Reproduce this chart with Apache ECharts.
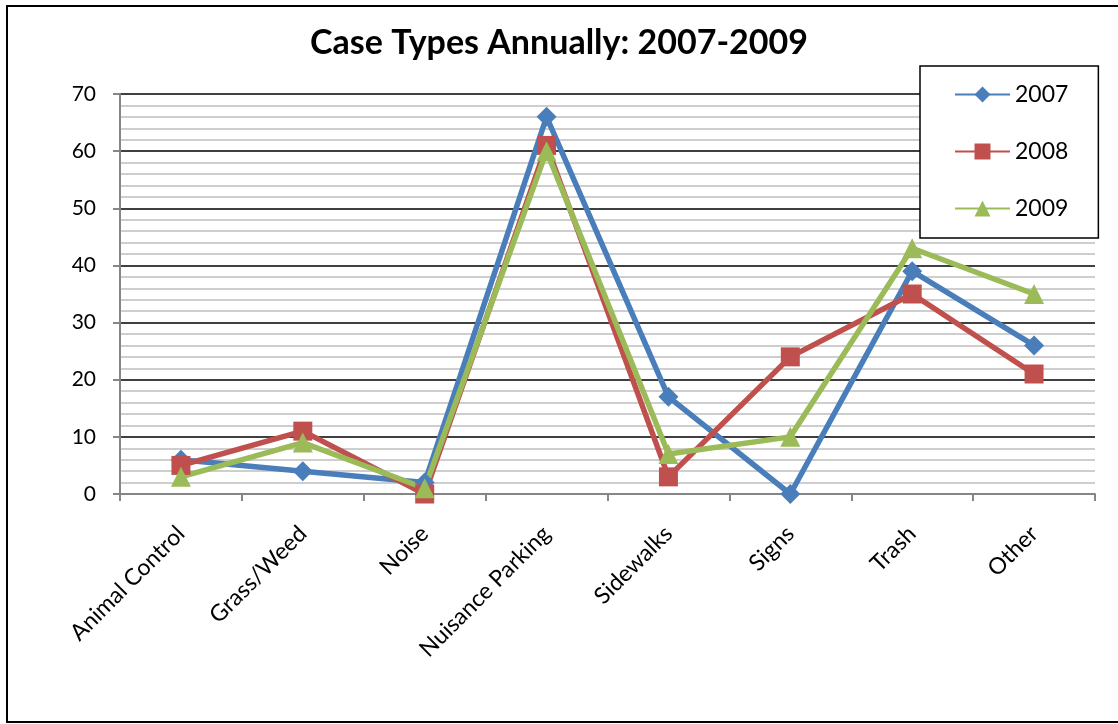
<!DOCTYPE html>
<html>
<head>
<meta charset="utf-8">
<script src="https://cdn.jsdelivr.net/npm/echarts@6/dist/echarts.min.js"></script>
<style>
  html, body { margin: 0; padding: 0; background: #fff; }
  #chart { width: 1118px; height: 724px; }
</style>
</head>
<body>
<div id="chart"></div>
<script>
const categories = ['Animal Control', 'Grass/Weed', 'Noise', 'Nuisance Parking', 'Sidewalks', 'Signs', 'Trash', 'Other']
const cases2007 = [6, 4, 2, 66, 17, 0, 39, 26]
const cases2008 = [5, 11, 0, 61, 3, 24, 35, 21]
const cases2009 = [3, 9, 1, 60, 7, 10, 43, 35]

const font = 'Lato, "Open Sans", sans-serif'

const makeSeries = (name, data, color, symbol, size) => ({
  name,
  type: 'line',
  data,
  symbol,
  symbolSize: size,
  lineStyle: { width: 5.5, color },
  itemStyle: { color },
  emphasis: { disabled: true },
  z: 3
})

const chart = echarts.init(document.getElementById('chart'))
chart.setOption({
  animation: false,
  backgroundColor: '#fff',
  title: {
    text: 'Case Types Annually: 2007-2009',
    left: 'center',
    top: 21,
    textStyle: { fontFamily: font, fontWeight: 'bold', fontSize: 34, color: '#000' }
  },
  graphic: [{
    type: 'rect',
    shape: { x: 7, y: 6, width: 1120, height: 716 },
    style: { fill: 'none', stroke: '#000', lineWidth: 2 },
    z: -1
  }],
  legend: {
    orient: 'vertical',
    left: 920,
    top: 66,
    width: 182,
    padding: [17, 30, 18, 34],
    itemGap: 34,
    itemWidth: 55,
    itemHeight: 20,
    backgroundColor: '#fff',
    borderColor: '#000',
    borderWidth: 1.5,
    textStyle: { fontFamily: font, fontSize: 23, color: '#000' },
    data: ['2007', '2008', '2009']
  },
  grid: { left: 120, right: 23, top: 94, bottom: 230, containLabel: false },
  xAxis: {
    type: 'category',
    data: categories,
    boundaryGap: true,
    axisLine: { lineStyle: { color: '#868686', width: 2 } },
    axisTick: { show: true, length: 7, lineStyle: { color: '#868686', width: 2 } },
    axisLabel: { rotate: 45, margin: 36, fontFamily: font, fontSize: 23, color: '#000' },
    splitLine: { show: false }
  },
  yAxis: {
    type: 'value',
    min: 0,
    max: 70,
    interval: 10,
    axisLine: { show: true, lineStyle: { color: '#868686', width: 2 } },
    axisTick: { show: true, length: 7, lineStyle: { color: '#868686', width: 2 } },
    axisLabel: { margin: 24, fontFamily: font, fontSize: 21, color: '#000' },
    splitLine: { show: true, lineStyle: { color: '#000', width: 1.5 } },
    minorTick: { show: false, splitNumber: 5 },
    minorSplitLine: { show: true, lineStyle: { color: '#bfbfbf', width: 1.5 } }
  },
  series: [
    makeSeries('2007', cases2007, '#4A7EBB', 'diamond', 20),
    makeSeries('2008', cases2008, '#C0504D', 'rect', 19),
    makeSeries('2009', cases2009, '#9BBB59', 'triangle', 20)
  ]
})
</script>
</body>
</html>
